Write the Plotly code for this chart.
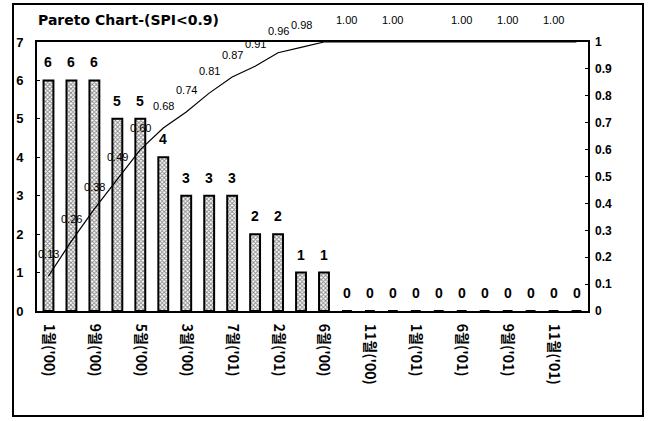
import plotly.graph_objects as go

# Months sorted by count (descending) for the Pareto view
months = [
    "1월('00)", "4월('00)", "9월('00)", "8월('00)", "5월('00)", "2월('00)",
    "3월('00)", "12월('00)", "7월('01)", "10월('00)", "2월('01)", "7월('00)",
    "6월('00)", "3월('01)", "11월('00)", "4월('01)", "1월('01)", "5월('01)",
    "6월('01)", "8월('01)", "9월('01)", "10월('01)", "11월('01)", "12월('01)",
]
counts = [6, 6, 6, 5, 5, 4, 3, 3, 3, 2, 2, 1, 1,
          0, 0, 0, 0, 0, 0, 0, 0, 0, 0, 0]
cum_ratio = [0.13, 0.26, 0.38, 0.49, 0.60, 0.68, 0.74, 0.81, 0.87, 0.91,
             0.96, 0.98, 1.00, 1.00, 1.00, 1.00, 1.00, 1.00, 1.00, 1.00,
             1.00, 1.00, 1.00, 1.00]
# cumulative labels that are printed (indices into the lists above)
cum_label_idx = [0, 1, 2, 3, 4, 5, 6, 7, 8, 9, 10, 11, 13, 15, 18, 20, 22]
tick_months = months[::2]

title_text = "Pareto Chart-(SPI<0.9)"

# layout geometry (pixels)
W, H = 650, 421
L, R, T, B = 37, 62, 42, 110
pw, ph = W - L - R, H - T - B

fig = go.Figure()

fig.add_trace(go.Bar(
    x=months, y=counts,
    marker=dict(
        color="white",
        line=dict(color="black", width=2),
        pattern=dict(shape="x", size=3, solidity=0.55,
                     fgcolor="#111111", bgcolor="#ffffff"),
    ),
    showlegend=False,
))

fig.add_trace(go.Scatter(
    x=months, y=cum_ratio, yaxis="y2", mode="lines",
    line=dict(color="black", width=1.2),
    showlegend=False, cliponaxis=False,
))

annotations = []
for m, c in zip(months, counts):
    annotations.append(dict(
        x=m, y=c, xref="x", yref="y", text=str(c), showarrow=False,
        yanchor="bottom", yshift=8,
        font=dict(family="Liberation Sans, Arial", size=14, color="black",
                  weight="bold"),
    ))
for i in cum_label_idx:
    annotations.append(dict(
        x=months[i], y=cum_ratio[i], xref="x", yref="y2",
        text=f"{cum_ratio[i]:.2f}", showarrow=False,
        yanchor="middle", yshift=22,
        font=dict(family="Liberation Sans, Arial", size=11, color="black"),
    ))

# outer chart frame
shapes = [dict(
    type="rect", xref="paper", yref="paper",
    x0=(13 - L) / pw, x1=(643 - L) / pw,
    y0=-(416 - (T + ph)) / ph, y1=(T + ph - 4) / ph,
    line=dict(color="black", width=2), fillcolor="rgba(0,0,0,0)",
    layer="below",
)]

fig.update_layout(
    width=W, height=H,
    margin=dict(l=L, r=R, t=T, b=B),
    paper_bgcolor="white", plot_bgcolor="white",
    bargap=0.57,
    title=dict(
        text=title_text, x=38 / W, xanchor="left", y=1 - 20 / H, yanchor="middle",
        font=dict(family="DejaVu Sans", size=14, color="black", weight="bold"),
    ),
    xaxis=dict(
        range=[-0.5, len(months) - 0.5],
        tickmode="array", tickvals=tick_months, ticktext=tick_months,
        tickangle=90, showgrid=False,
        showline=True, linecolor="black", linewidth=2, mirror=True,
        ticks="", ticklabelstandoff=8,
        tickfont=dict(family="Noto Sans CJK KR", size=14,
                      color="black", weight="bold"),
    ),
    yaxis=dict(
        range=[0, 7], dtick=1, showgrid=False, zeroline=False,
        showline=True, linecolor="black", linewidth=2, mirror=True,
        ticks="inside", ticklen=3, tickcolor="black",
        ticklabelstandoff=9,
        tickfont=dict(family="Liberation Sans, Arial", size=13,
                      color="black", weight="bold"),
    ),
    yaxis2=dict(
        range=[0, 1], dtick=0.1, overlaying="y", side="right",
        showgrid=False, zeroline=False, showline=False,
        ticks="inside", ticklen=3, tickcolor="black",
        ticklabelstandoff=6,
        tickfont=dict(family="Liberation Sans, Arial", size=12,
                      color="black", weight="bold"),
    ),
    annotations=annotations,
    shapes=shapes,
)

fig.write_html("out.html")
